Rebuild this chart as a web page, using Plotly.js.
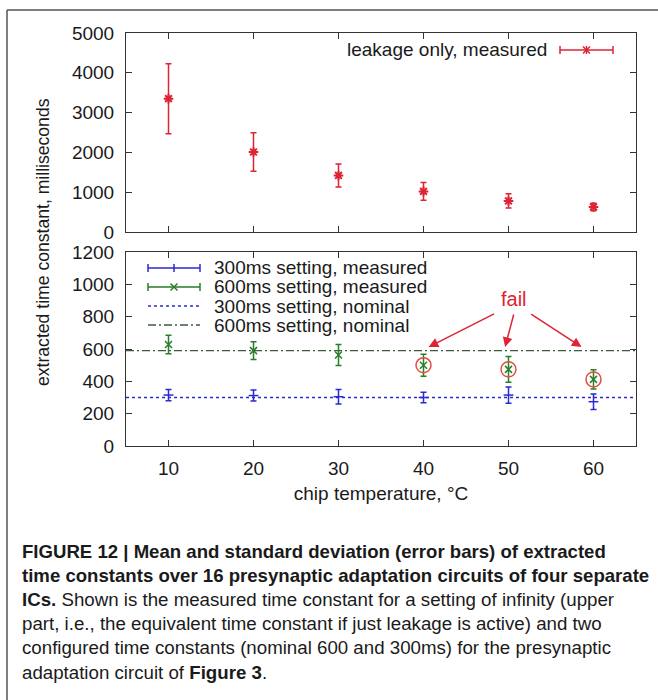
<!DOCTYPE html>
<html>
<head>
<meta charset="utf-8">
<script src="https://cdn.plot.ly/plotly-3.0.1.min.js"></script>
<style>html,body{margin:0;padding:0;background:#fff;}#chart{width:658px;height:700px;}</style>
</head>
<body>
<div id="chart"></div>
<script>
// ---- data ----
const temps = [10, 20, 30, 40, 50, 60];
const leakMean = [3350, 2010, 1420, 1020, 780, 630];
const leakSd = [880, 485, 290, 225, 180, 95];
const set300Mean = [315, 312, 305, 300, 315, 274];
const set300Sd = [35, 34, 45, 33, 50, 48];
const set600Mean = [628, 590, 563, 500, 474, 412];
const set600Sd = [57, 55, 65, 68, 80, 60];
const nominal300 = 300;
const nominal600 = 590;
const failTemps = [40, 50, 60];
const xRange = [5, 65];
const topTicks = [0, 1000, 2000, 3000, 4000, 5000];
const bottomTicks = [0, 200, 400, 600, 800, 1000, 1200];
const legendNames = ['leakage only, measured', '300ms setting, measured', '600ms setting, measured', '300ms setting, nominal', '600ms setting, nominal'];

// ---- styling ----
const W = 658, H = 700;
const FONT = 'Liberation Sans, Arial, sans-serif';
const RED = '#dd2435', GREEN = '#2a7d2a', BLUE = '#2a2ad0', GNOM = '#3d5a3d';
const px = x => x / W;
const py = y => 1 - y / H;

const failY = failTemps.map(t => set600Mean[temps.indexOf(t)]);

const traces = [
  {x: temps, y: leakMean, xaxis: 'x2', yaxis: 'y2', type: 'scatter', mode: 'markers', name: legendNames[0], showlegend: false,
   marker: {symbol: 'asterisk-open', size: 8, color: RED, line: {color: RED, width: 2}},
   error_y: {type: 'data', array: leakSd, color: RED, thickness: 1.5, width: 3}},
  {x: xRange, y: [nominal300, nominal300], type: 'scatter', mode: 'lines', name: legendNames[3], showlegend: false,
   line: {color: BLUE, width: 1.3, dash: 'dot'}},
  {x: xRange, y: [nominal600, nominal600], type: 'scatter', mode: 'lines', name: legendNames[4], showlegend: false,
   line: {color: GNOM, width: 1.3, dash: '8px,3px,2px,3px'}},
  {x: temps, y: set300Mean, type: 'scatter', mode: 'markers', name: legendNames[1], showlegend: false,
   marker: {symbol: 'line-ew-open', size: 7, color: BLUE, line: {color: BLUE, width: 1.5}},
   error_y: {type: 'data', array: set300Sd, color: BLUE, thickness: 1.5, width: 3}},
  {x: temps, y: set600Mean, type: 'scatter', mode: 'markers', name: legendNames[2], showlegend: false,
   marker: {symbol: 'x-thin-open', size: 7, color: GREEN, line: {color: GREEN, width: 1.5}},
   error_y: {type: 'data', array: set600Sd, color: GREEN, thickness: 1.5, width: 3}},
  {x: failTemps, y: failY, type: 'scatter', mode: 'markers', name: 'fail', showlegend: false,
   marker: {symbol: 'circle-open', size: 15, color: '#e0503a', line: {color: '#e0503a', width: 1.5}}}
];

const axisCommon = {
  showgrid: false, zeroline: false, showline: true, linecolor: '#333', linewidth: 1,
  mirror: 'ticks', ticks: 'inside', ticklen: 6, tickcolor: '#333', tickwidth: 1,
  tickfont: {family: FONT, size: 19, color: '#1a1a1a'}
};

const shapes = [];
const annotations = [];
function hLine(x0, x1, y, color, dash, width) {
  shapes.push({type: 'line', xref: 'paper', yref: 'paper', x0: px(x0), x1: px(x1), y0: py(y), y1: py(y),
    line: {color: color, width: width || 1.5, dash: dash || 'solid'}});
}
function vLine(x, y0, y1, color, width) {
  shapes.push({type: 'line', xref: 'paper', yref: 'paper', x0: px(x), x1: px(x), y0: py(y0), y1: py(y1),
    line: {color: color, width: width || 1.5}});
}
function xMark(x, y, r, color) {
  shapes.push({type: 'line', xref: 'paper', yref: 'paper', x0: px(x - r), x1: px(x + r), y0: py(y - r), y1: py(y + r), line: {color: color, width: 1.5}});
  shapes.push({type: 'line', xref: 'paper', yref: 'paper', x0: px(x - r), x1: px(x + r), y0: py(y + r), y1: py(y - r), line: {color: color, width: 1.5}});
}
function errLegend(x0, x1, y, color, mark) {
  hLine(x0, x1, y, color);
  vLine(x0, y - 4, y + 4, color);
  vLine(x1, y - 4, y + 4, color);
  const xm = (x0 + x1) / 2;
  if (mark === 'plus') vLine(xm, y - 4, y + 4, color);
  if (mark === 'x') xMark(xm, y, 3.5, color);
  if (mark === 'star') { xMark(xm, y, 3.5, color); vLine(xm, y - 4, y + 4, color); }
}
function label(text, x, y, anchor, size, color) {
  annotations.push({text: text, xref: 'paper', yref: 'paper', x: px(x), y: py(y), xanchor: anchor, yanchor: 'middle',
    showarrow: false, font: {family: FONT, size: size || 19, color: color || '#1a1a1a'}});
}

// frame of the figure
hLine(7, 658, 10, '#555', 'solid', 1.5);
vLine(7, 10, 700, '#555', 1.5);

// top legend
label(legendNames[0], 549, 50, 'right');
errLegend(560, 613, 50, RED, 'star');

// bottom legend
errLegend(148, 200, 268, BLUE, 'plus');
label(legendNames[1], 212, 268, 'left');
errLegend(148, 200, 287, GREEN, 'x');
label(legendNames[2], 212, 287, 'left');
hLine(148, 200, 306, BLUE, 'dot', 1.3);
label(legendNames[3], 212, 306, 'left');
hLine(148, 200, 325, GNOM, '8px,3px,2px,3px', 1.3);
label(legendNames[4], 212, 325, 'left');

// y title spanning both panels
annotations.push({text: 'extracted time constant, milliseconds', xref: 'paper', yref: 'paper', x: px(43), y: py(242),
  xanchor: 'center', yanchor: 'middle', textangle: -90, showarrow: false, font: {family: FONT, size: 17.6, color: '#1a1a1a'}});

// fail annotation
annotations.push({text: 'fail', xref: 'x', yref: 'y', x: 50.6, y: 912, showarrow: false,
  font: {family: FONT, size: 20, color: RED}});
const arrowTips = [[40.6, 612, 67, -34], [49.6, 612, 9, -34], [58.6, 612, -52, -34]];
arrowTips.forEach(a => annotations.push({text: '', xref: 'x', yref: 'y', x: a[0], y: a[1], ax: a[2], ay: a[3],
  showarrow: true, arrowhead: 2, arrowsize: 1.3, arrowwidth: 1.5, arrowcolor: RED}));

// caption
const capLines = [
  '<b>FIGURE 12 | Mean and standard deviation (error bars) of extracted</b>',
  '<b>time constants over 16 presynaptic adaptation circuits of four separate</b>',
  '<b>ICs.</b> Shown is the measured time constant for a setting of infinity (upper',
  'part, i.e., the equivalent time constant if just leakage is active) and two',
  'configured time constants (nominal 600 and 300ms) for the presynaptic',
  'adaptation circuit of <b>Figure 3</b>.'
];
const capSizes = [18.6, 18.6, 18.7, 18.7, 18.7, 18.7];
capLines.forEach((t, i) => annotations.push({text: t, xref: 'paper', yref: 'paper', x: px(20), y: py(551 + i * 24.2),
  xanchor: 'left', yanchor: 'middle', showarrow: false, font: {family: FONT, size: capSizes[i], color: '#1a1a1a'}}));

const layout = {
  width: W, height: H, margin: {l: 0, r: 0, t: 0, b: 0}, showlegend: false,
  paper_bgcolor: '#fff', plot_bgcolor: '#fff',
  xaxis: Object.assign({}, axisCommon, {domain: [px(126), px(636)], range: xRange, anchor: 'y', tickvals: temps,
    ticklabelstandoff: 5,
    title: {text: 'chip temperature, °C', standoff: 8, font: {family: FONT, size: 19, color: '#1a1a1a'}}}),
  yaxis: Object.assign({}, axisCommon, {domain: [py(446), py(252)], range: [0, 1200], tickvals: bottomTicks, anchor: 'x', ticklabelstandoff: 7}),
  xaxis2: Object.assign({}, axisCommon, {domain: [px(126), px(636)], range: xRange, anchor: 'y2', tickvals: temps, showticklabels: false}),
  yaxis2: Object.assign({}, axisCommon, {domain: [py(232), py(33)], range: [0, 5000], tickvals: topTicks, anchor: 'x2', ticklabelstandoff: 7}),
  shapes: shapes, annotations: annotations
};

Plotly.newPlot('chart', traces, layout, {displayModeBar: false, staticPlot: true});
</script>
</body>
</html>
